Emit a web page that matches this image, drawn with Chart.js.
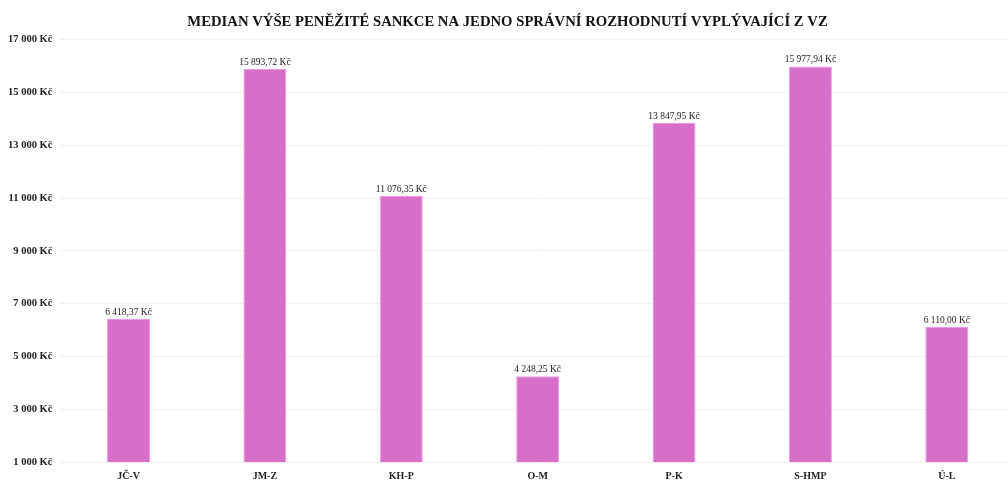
<!DOCTYPE html>
<html>
<head>
<meta charset="utf-8">
<script src="https://cdn.jsdelivr.net/npm/chart.js@4"></script>
<style>
  html, body { margin: 0; padding: 0; background: #fff; overflow: hidden; }
  #wrap { width: 1015px; height: 480px; }
</style>
</head>
<body>
<div id="wrap"><canvas id="myChart"></canvas></div>
<script>
const regions = ["JČ-V", "JM-Z", "KH-P", "O-M", "P-K", "S-HMP", "Ú-L"];
const medianValues = [6418.37, 15893.72, 11076.35, 4248.25, 13847.95, 15977.94, 6110.00];
const yTicks = [1000, 3000, 5000, 7000, 9000, 11000, 13000, 15000, 17000];

const serif = "'Liberation Serif', 'Times New Roman', serif";

function czk(v, decimals) {
  let s = v.toFixed(decimals);
  let parts = s.split(".");
  let whole = parts[0].replace(/\B(?=(\d{3})+(?!\d))/g, " ");
  return whole + (decimals ? "," + parts[1] : "") + " Kč";
}

// draw value labels above bars
const valueLabels = {
  id: "valueLabels",
  afterDatasetsDraw(chart) {
    const ctx = chart.ctx;
    const meta = chart.getDatasetMeta(0);
    ctx.save();
    ctx.font = "9.5px " + serif;
    ctx.fillStyle = "#222";
    ctx.textAlign = "center";
    ctx.textBaseline = "bottom";
    meta.data.forEach(function(bar, i) {
      ctx.fillText(czk(medianValues[i], 2), bar.x, bar.y - 2);
    });
    ctx.restore();
  }
};

const ctx = document.getElementById("myChart").getContext("2d");
const chart = new Chart(ctx, {
  type: "bar",
  data: {
    labels: regions,
    datasets: [{
      label: "Median",
      data: medianValues,
      backgroundColor: "rgb(214, 110, 202)",
      borderColor: "rgb(236, 150, 228)",
      borderWidth: 1,
      categoryPercentage: 1,
      barPercentage: 0.315
    }]
  },
  options: {
    responsive: true,
    maintainAspectRatio: false,
    animation: false,
    layout: { padding: { left: 0, right: 0, top: 0, bottom: -10 } },
    plugins: {
      legend: { display: false },
      tooltip: { enabled: false },
      title: {
        display: true,
        text: "MEDIAN VÝŠE PENĚŽITÉ SANKCE NA JEDNO SPRÁVNÍ ROZHODNUTÍ VYPLÝVAJÍCÍ Z VZ",
        color: "#111",
        font: { family: serif, size: 14.7, weight: "bold" },
        padding: { top: 13, bottom: 9 }
      }
    },
    scales: {
      x: {
        grid: { display: false, drawTicks: false },
        border: { display: false },
        ticks: { color: "#222", padding: 8, font: { family: serif, size: 10, weight: "bold" } }
      },
      y: {
        min: 1000,
        max: 17000,
        afterBuildTicks(axis) {
          axis.ticks = yTicks.map(v => ({ value: v }));
        },
        grid: { color: "#f0f0f0", drawTicks: false },
        border: { display: false },
        ticks: {
          color: "#222",
          padding: 8,
          font: { family: serif, size: 10.5, weight: "bold" },
          callback: v => czk(v, 0)
        }
      }
    }
  },
  plugins: [valueLabels]
});
</script>
</body>
</html>
